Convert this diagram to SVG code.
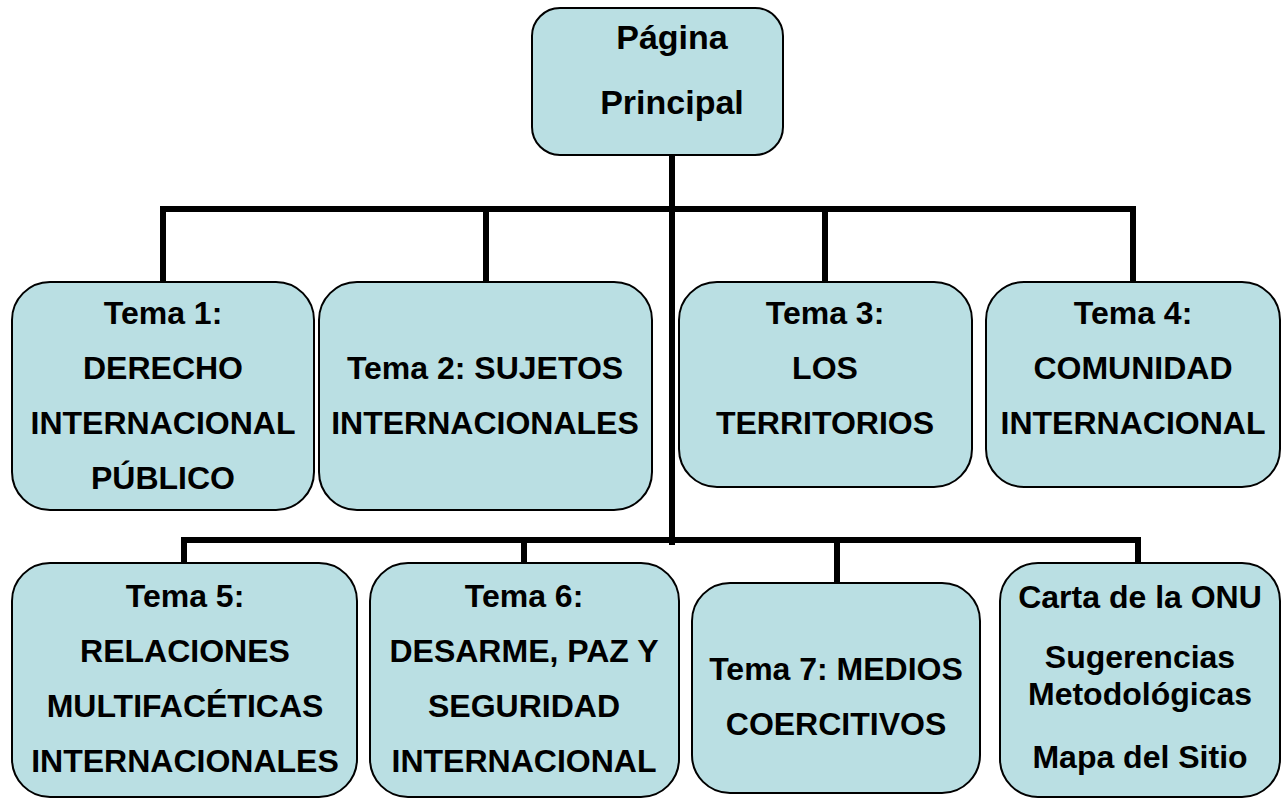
<svg xmlns="http://www.w3.org/2000/svg" width="1282" height="798" viewBox="0 0 1282 798">
<style>
.box{fill:#BADFE3;stroke:#000;stroke-width:2}
.t{font-family:"Liberation Sans",Arial,sans-serif;font-weight:bold;font-size:32px;fill:#000;text-anchor:middle}
.big{font-size:34px}
.c{fill:none;stroke:#000;stroke-width:6;stroke-linecap:square}
</style>
<rect width="1282" height="798" fill="#fff"/>
<g id="connectors">
<path class="c" d="M672 155V542"/>
<path class="c" d="M163 282V209H1133V282M486 209V282M825 209V282"/>
<path class="c" d="M184 563V540H1138V563M524 540V563M837 540V583"/>
</g>
<g id="n0">
<rect class="box" x="532" y="8" width="251" height="147" rx="28"/>
<text class="t big" x="672" y="49">Página</text>
<text class="t big" x="672" y="114">Principal</text>
</g>
<g id="n1">
<rect class="box" x="12" y="282" width="302" height="228" rx="38"/>
<text class="t" x="163" y="324">Tema 1:</text>
<text class="t" x="163" y="379">DERECHO</text>
<text class="t" x="163" y="434">INTERNACIONAL</text>
<text class="t" x="163" y="489">PÚBLICO</text>
</g>
<g id="n2">
<rect class="box" x="319" y="282" width="333" height="228" rx="38"/>
<text class="t" x="485" y="379">Tema 2: SUJETOS</text>
<text class="t" x="485" y="434">INTERNACIONALES</text>
</g>
<g id="n3">
<rect class="box" x="679" y="282" width="293" height="205" rx="38"/>
<text class="t" x="825" y="324">Tema 3:</text>
<text class="t" x="825" y="379">LOS</text>
<text class="t" x="825" y="434">TERRITORIOS</text>
</g>
<g id="n4">
<rect class="box" x="986" y="282" width="294" height="205" rx="38"/>
<text class="t" x="1133" y="324">Tema 4:</text>
<text class="t" x="1133" y="379">COMUNIDAD</text>
<text class="t" x="1133" y="434">INTERNACIONAL</text>
</g>
<g id="n5">
<rect class="box" x="12" y="563" width="345" height="234" rx="38"/>
<text class="t" x="185" y="607">Tema 5:</text>
<text class="t" x="185" y="662">RELACIONES</text>
<text class="t" x="185" y="717">MULTIFACÉTICAS</text>
<text class="t" x="185" y="772">INTERNACIONALES</text>
</g>
<g id="n6">
<rect class="box" x="370" y="563" width="309" height="234" rx="38"/>
<text class="t" x="524" y="607">Tema 6:</text>
<text class="t" x="524" y="662">DESARME, PAZ Y</text>
<text class="t" x="524" y="717">SEGURIDAD</text>
<text class="t" x="524" y="772">INTERNACIONAL</text>
</g>
<g id="n7">
<rect class="box" x="692" y="583" width="288" height="210" rx="38"/>
<text class="t" x="836" y="680">Tema 7: MEDIOS</text>
<text class="t" x="836" y="735">COERCITIVOS</text>
</g>
<g id="n8">
<rect class="box" x="1000" y="563" width="280" height="234" rx="38"/>
<text class="t" x="1140" y="608">Carta de la ONU</text>
<text class="t" x="1140" y="668">Sugerencias</text>
<text class="t" x="1140" y="705">Metodológicas</text>
<text class="t" x="1140" y="768">Mapa del Sitio</text>
</g>
</svg>
